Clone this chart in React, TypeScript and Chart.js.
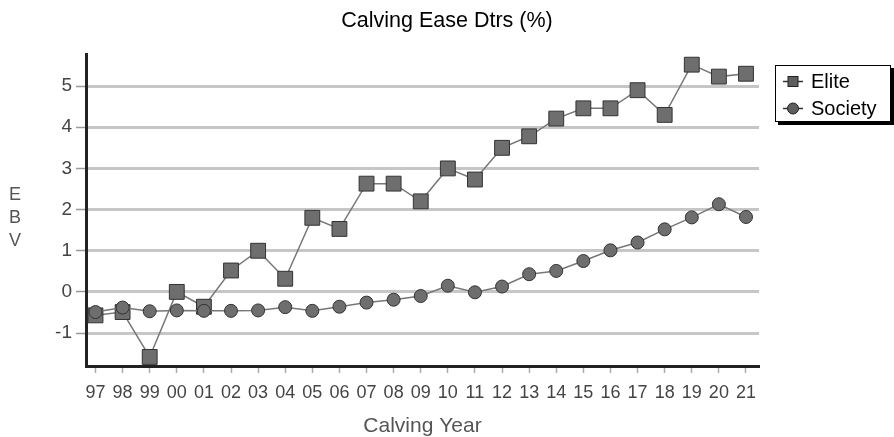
import React, { useEffect, useRef } from "react";
import { Chart, registerables } from "chart.js";

Chart.register(...registerables);

const years = ["97", "98", "99", "00", "01", "02", "03", "04", "05", "06", "07", "08", "09", "10", "11", "12", "13", "14", "15", "16", "17", "18", "19", "20", "21"];
const eliteValues = [-0.57, -0.49, -1.58, 0.0, -0.36, 0.52, 1.0, 0.32, 1.8, 1.53, 2.63, 2.63, 2.2, 3.0, 2.73, 3.5, 3.78, 4.21, 4.46, 4.46, 4.9, 4.3, 5.52, 5.23, 5.3];
const societyValues = [-0.49, -0.38, -0.47, -0.45, -0.46, -0.46, -0.45, -0.37, -0.46, -0.36, -0.26, -0.19, -0.1, 0.15, -0.01, 0.13, 0.43, 0.51, 0.75, 1.01, 1.2, 1.52, 1.81, 2.13, 1.82];
const yTickValues = [-1, 0, 1, 2, 3, 4, 5];
const yAxisLetters = ["E", "B", "V"];
const chartTitle = "Calving Ease Dtrs (%)";
const xAxisTitle = "Calving Year";

const FONT = '"Liberation Sans", Arial, Helvetica, sans-serif';

const ebvPlugin = {
  id: "ebvTitle",
  afterDraw(chart: any) {
    const ctx = chart.ctx;
    ctx.save();
    ctx.font = `18px ${FONT}`;
    ctx.fillStyle = "#555";
    ctx.textAlign = "center";
    ctx.textBaseline = "middle";
    const ys = [195, 218, 241];
    yAxisLetters.forEach((l, i) => ctx.fillText(l, 15, ys[i]));
    ctx.restore();
  },
};

const legendPlugin = {
  id: "boxLegend",
  afterDraw(chart: any) {
    const ctx = chart.ctx;
    const x0 = 775, y0 = 65, w = 115, h = 56;
    ctx.save();
    ctx.fillStyle = "#000";
    ctx.fillRect(x0 + 3, y0 + 3, w + 1, h + 1);
    ctx.fillStyle = "#fff";
    ctx.fillRect(x0, y0, w, h);
    ctx.strokeStyle = "#000";
    ctx.lineWidth = 1;
    ctx.strokeRect(x0 + 0.5, y0 + 0.5, w, h);
    const order = [0, 1];
    const rows = [81.5, 108.5];
    order.forEach((di, r) => {
      const ds = chart.data.datasets[di];
      const y = rows[r];
      ctx.strokeStyle = "#333";
      ctx.lineWidth = 1.5;
      ctx.beginPath();
      ctx.moveTo(783, y);
      ctx.lineTo(803, y);
      ctx.stroke();
      ctx.fillStyle = "#5e5e5e";
      ctx.strokeStyle = "#222";
      ctx.lineWidth = 1;
      if (ds.pointStyle === "rect") {
        ctx.fillRect(788, y - 5, 10, 10);
        ctx.strokeRect(788, y - 5, 10, 10);
      } else {
        ctx.beginPath();
        ctx.arc(793, y, 5.5, 0, Math.PI * 2);
        ctx.fill();
        ctx.stroke();
      }
      ctx.fillStyle = "#000";
      ctx.font = `20px ${FONT}`;
      ctx.textAlign = "left";
      ctx.textBaseline = "middle";
      ctx.fillText(ds.label, 811, y + 1);
    });
    ctx.restore();
  },
};

export default function App() {
  const canvasRef = useRef<HTMLCanvasElement | null>(null);

  useEffect(() => {
    if (!canvasRef.current) return;
    Chart.defaults.font.family = FONT;
    const chart = new Chart(canvasRef.current, {
      type: "line",
      data: {
        datasets: [
          {
            label: "Elite",
            data: eliteValues.map((v, i) => ({ x: i, y: v })),
            borderColor: "#777",
            borderWidth: 1.5,
            pointStyle: "rect",
            pointRadius: 10.5,
            pointBackgroundColor: "#6e6e6e",
            pointBorderColor: "#333",
            pointBorderWidth: 1,
            order: 1,
          },
          {
            label: "Society",
            data: societyValues.map((v, i) => ({ x: i, y: v })),
            borderColor: "#777",
            borderWidth: 1.5,
            pointStyle: "circle",
            pointRadius: 6.5,
            pointBackgroundColor: "#6e6e6e",
            pointBorderColor: "#333",
            pointBorderWidth: 1,
            order: 0,
          },
        ],
      },
      options: {
        responsive: false,
        animation: false,
        devicePixelRatio: 1,
        layout: { padding: { left: 0, right: 0, top: 0, bottom: 0 } },
        plugins: {
          legend: { display: false },
          tooltip: { enabled: false },
          title: {
            display: true,
            text: chartTitle,
            color: "#000",
            font: { size: 21.5, weight: "normal", lineHeight: 1.2 },
            padding: { top: 8, bottom: 21 },
          },
        },
        scales: {
          x: {
            type: "linear",
            min: -0.35,
            max: 24.48,
            afterBuildTicks: (scale: any) => {
              scale.ticks = years.map((_, i) => ({ value: i }));
            },
            afterFit: (scale: any) => {
              scale.height = 71;
            },
            ticks: {
              autoSkip: false,
              maxRotation: 0,
              minRotation: 0,
              padding: 9,
              color: "#444",
              font: { size: 18 },
              callback: (value: any) => years[value] ?? "",
            },
            grid: {
              display: true,
              drawOnChartArea: false,
              drawTicks: true,
              tickLength: 7,
              tickColor: "#aaa",
              tickWidth: 1.5,
            },
            border: { display: true, color: "#222", width: 3 },
            title: {
              display: true,
              text: xAxisTitle,
              color: "#555",
              font: { size: 21, lineHeight: 1 },
              padding: { top: 0, bottom: 0 },
            },
          },
          y: {
            type: "linear",
            min: -1.8,
            max: 5.76,
            afterBuildTicks: (scale: any) => {
              scale.ticks = yTickValues.map((v) => ({ value: v }));
            },
            afterFit: (scale: any) => {
              scale.width = 86;
            },
            ticks: {
              padding: 4,
              color: "#444",
              font: { size: 19 },
              callback: (value: any) => String(value),
            },
            grid: {
              display: true,
              drawOnChartArea: true,
              color: "#c6c6c6",
              lineWidth: 3,
              drawTicks: true,
              tickLength: 10,
              tickColor: "#999",
              tickWidth: 1.5,
            },
            border: { display: true, color: "#222", width: 3 },
          },
          yRight: {
            type: "linear",
            position: "right",
            display: true,
            afterFit: (scale: any) => {
              scale.width = 135;
            },
            ticks: { display: false },
            grid: { display: false, drawTicks: false },
            border: { display: false },
          },
        },
      },
      plugins: [ebvPlugin, legendPlugin],
    } as any);
    return () => chart.destroy();
  }, []);

  return (
    <div style={{ position: "fixed", left: 0, top: 0, width: 894, height: 437, background: "#fff" }}>
      <canvas ref={canvasRef} width={894} height={437} style={{ width: 894, height: 437 }} />
    </div>
  );
}
